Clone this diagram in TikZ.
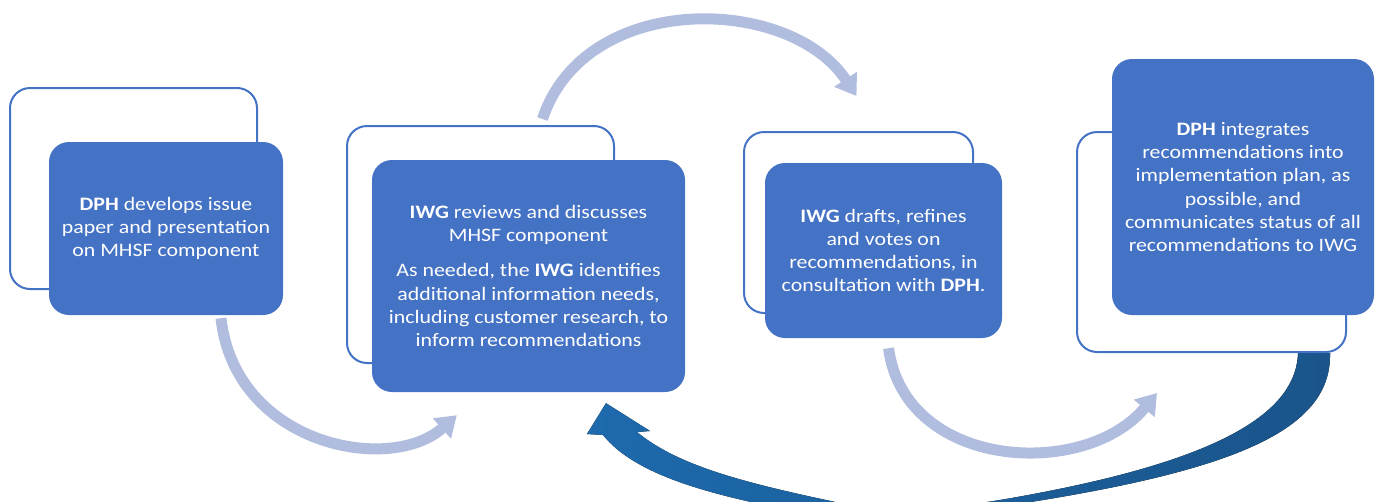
\documentclass[tikz,border=0pt]{standalone}
\usepackage{fontspec}
\setmainfont{Carlito}[FakeStretch=1.15]
\usetikzlibrary{arrows.meta,calc,backgrounds}

\definecolor{boxblue}{HTML}{4472C4}
\definecolor{loopblue}{HTML}{B0BDDE}
\definecolor{backL}{HTML}{1D6AAD}
\definecolor{backR}{HTML}{1A548A}

\begin{document}
\begin{tikzpicture}[
  x=1pt, y=-1pt,
  every node/.style={rectangle, rounded corners=20pt, inner sep=0pt},
  stepbox/.style={fill=boxblue, text=white, align=center,
    font=\fontsize{19}{23.3}\selectfont},
  backbox/.style={draw=boxblue, line width=2pt, fill=white},
  loop/.style={draw=loopblue, line width=11pt,
    -{Triangle[width=26pt,length=20pt]}},
]
\useasboundingbox (0,0) rectangle (1375,501);

% frames behind the steps
\node (dphback) [backbox, minimum width=247pt, minimum height=201pt] at (133.5,188.5) {};
\node (iwgback) [backbox, minimum width=267pt, minimum height=237pt] at (480.5,244.5) {};
\node (voteback) [backbox, minimum width=229pt, minimum height=181pt] at (858.5,222.5) {};
\node (planback) [backbox, minimum width=269pt, minimum height=220pt] at (1211.5,242) {};

% steps
\node (dph) [stepbox, minimum width=234pt, minimum height=173pt] at (166,228.5)
  {\textbf{DPH} develops issue\\paper and presentation\\on MHSF component};
\node (iwg) [stepbox, minimum width=313pt, minimum height=232pt] at (528.5,276)
  {\textbf{IWG} reviews and discusses\\MHSF component\\[12pt]As needed, the \textbf{IWG} identifies\\additional information needs,\\including customer research, to\\inform recommendations};
\node (vote) [stepbox, minimum width=237pt, minimum height=175pt] at (883.5,250.5)
  {\textbf{IWG} drafts, refines\\and votes on\\recommendations, in\\consultation with \textbf{DPH}.};
\node (plan) [stepbox, minimum width=262pt, minimum height=256pt] at (1243,187)
  {\textbf{DPH} integrates\\recommendations into\\implementation plan, as\\possible, and\\communicates status of all\\recommendations to IWG};

% light loops between steps
\draw[loop] ($(dph.south)+(55,3)$) .. controls (235,445) and (390,475) .. ($(iwg.south west)+(85,23)$);
\draw[loop] ($(iwgback.north)+(62,-6)$) .. controls (585,-10) and (790,-5) .. ($(voteback.north)+(-2,-35)$);
\draw[loop] ($(vote.south)+(5,10)$) .. controls (905,470) and (1085,480) .. ($(planback.south west)+(81,40)$);

% feedback arrow back to the IWG
\begin{scope}[on background layer]
  \clip (0,0) rectangle (1375,501);
  \fill[left color=backL, right color=backR]
    ($(iwg.south)+(77.5,11)$) -- (650,431) -- (637,432)
    .. controls (678,466) and (745,483) .. (840,503)
    .. controls (900,514) and (950,508) .. (1000,500)
    .. controls (1200,466) and (1296,420) .. ($(planback.south)+(86.5,0)$)
    -- ($(planback.south)+(118.5,0)$)
    .. controls (1332,432) and (1230,472) .. (1005,506)
    .. controls (900,530) and (850,520) .. (800,512)
    .. controls (710,495) and (635,475) .. (603,435)
    -- (587,434) -- cycle;
\end{scope}

\end{tikzpicture}
\end{document}
